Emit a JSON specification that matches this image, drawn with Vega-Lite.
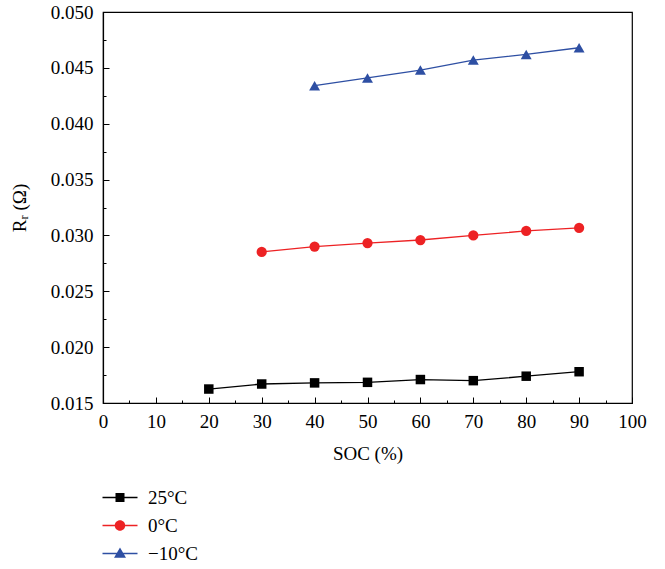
{
  "$schema": "https://vega.github.io/schema/vega-lite/v6.json",
  "autosize": {"type": "none"},
  "width": 529,
  "height": 391,
  "padding": {"left": 103, "top": 12, "right": 33, "bottom": 166},
  "background": "white",
  "config": {
    "view": {"stroke": "black", "strokeWidth": 1.2},
    "font": "Liberation Serif",
    "axis": {"labelFont": "Liberation Serif", "titleFont": "Liberation Serif", "labelFontSize": 19, "titleFontSize": 19, "titleFontWeight": "normal", "labelColor": "black", "titleColor": "black", "domainColor": "black", "tickColor": "black", "grid": false, "labelFlush": false, "labelOverlap": false},
    "legend": {"orient": "none", "legendX": 7.5, "legendY": 476, "padding": 0, "symbolSize": 100, "labelFontSize": 19, "labelFont": "Liberation Serif", "labelColor": "black", "labelOffset": 18.5, "rowPadding": 8}
  },
  "data": {"values": [
    {"soc": 20, "r": 0.01625, "temp": "25°C"},
    {"soc": 30, "r": 0.0167, "temp": "25°C"},
    {"soc": 40, "r": 0.0168, "temp": "25°C"},
    {"soc": 50, "r": 0.01685, "temp": "25°C"},
    {"soc": 60, "r": 0.0171, "temp": "25°C"},
    {"soc": 70, "r": 0.0170, "temp": "25°C"},
    {"soc": 80, "r": 0.0174, "temp": "25°C"},
    {"soc": 90, "r": 0.0178, "temp": "25°C"},
    {"soc": 30, "r": 0.02852, "temp": "0°C"},
    {"soc": 40, "r": 0.0290, "temp": "0°C"},
    {"soc": 50, "r": 0.02932, "temp": "0°C"},
    {"soc": 60, "r": 0.02959, "temp": "0°C"},
    {"soc": 70, "r": 0.0300, "temp": "0°C"},
    {"soc": 80, "r": 0.0304, "temp": "0°C"},
    {"soc": 90, "r": 0.03067, "temp": "0°C"},
    {"soc": 40, "r": 0.0434, "temp": "−10°C"},
    {"soc": 50, "r": 0.0441, "temp": "−10°C"},
    {"soc": 60, "r": 0.0448, "temp": "−10°C"},
    {"soc": 70, "r": 0.0457, "temp": "−10°C"},
    {"soc": 80, "r": 0.0462, "temp": "−10°C"},
    {"soc": 90, "r": 0.0468, "temp": "−10°C"}
  ]},
  "layer": [
    {
      "mark": {"type": "line", "strokeWidth": 1.3},
      "encoding": {
        "x": {"field": "soc", "type": "quantitative", "scale": {"domain": [0, 100], "nice": false}, "axis": {"orient": "bottom", "values": [0,10,20,30,40,50,60,70,80,90,100], "tickSize": -6, "labelPadding": 15, "title": "SOC (%)", "titlePadding": 13, "domainWidth": 1.2}},
        "y": {"field": "r", "type": "quantitative", "scale": {"domain": [0.015, 0.05], "nice": false, "zero": false}, "axis": {"orient": "left", "values": [0.015,0.02,0.025,0.03,0.035,0.04,0.045,0.05], "format": ".3f", "tickSize": -6, "labelPadding": 16, "title": "Rᵣ (Ω)", "titlePadding": 21, "domainWidth": 1.2}},
        "color": {"field": "temp", "type": "nominal", "scale": {"domain": ["25°C", "0°C", "−10°C"], "range": ["#000000", "#ED2224", "#2E4FA3"]}, "legend": null}
      }
    },
    {
      "mark": {"type": "point", "filled": true, "opacity": 1},
      "encoding": {
        "x": {"field": "soc", "type": "quantitative", "axis": {"orient": "bottom", "values": [5,15,25,35,45,55,65,75,85,95], "tickSize": -3, "labels": false, "domain": false, "title": null}},
        "y": {"field": "r", "type": "quantitative", "axis": {"orient": "left", "values": [0.0175,0.0225,0.0275,0.0325,0.0375,0.0425,0.0475], "tickSize": -3, "labels": false, "domain": false, "title": null}},
        "size": {"field": "temp", "type": "nominal", "scale": {"domain": ["25°C", "0°C", "−10°C"], "range": [90, 120, 160]}, "legend": null},
        "color": {"field": "temp", "type": "nominal", "scale": {"domain": ["25°C", "0°C", "−10°C"], "range": ["#000000", "#ED2224", "#2E4FA3"]}, "legend": null},
        "shape": {"field": "temp", "type": "nominal", "scale": {"domain": ["25°C", "0°C", "−10°C"], "range": ["square", "circle", "triangle-up"]}, "legend": null}
      }
    },
    {
      "transform": [{"filter": "false"}],
      "mark": {"type": "point", "filled": true, "opacity": 1},
      "encoding": {
        "color": {"field": "temp", "type": "nominal", "scale": {"domain": ["25°C", "0°C", "−10°C"], "range": ["#000000", "#ED2224", "#2E4FA3"]}, "legend": {"title": null}},
        "shape": {"field": "temp", "type": "nominal", "scale": {"domain": ["25°C", "0°C", "−10°C"], "range": [
          "M-3.5,-0.13H3.5V0.13H-3.5ZM-0.9,-0.9H0.9V0.9H-0.9Z",
          "M-3.5,-0.13H3.5V0.13H-3.5ZM-1.05,0A1.05,1.05,0,1,1,1.05,0A1.05,1.05,0,1,1,-1.05,0Z",
          "M-3.5,-0.13H3.5V0.13H-3.5ZM0,-1.2L1.2,0.85H-1.2Z"
        ]}, "legend": {"title": null}}
      }
    }
  ],
  "resolve": {"axis": {"x": "independent", "y": "independent"}, "scale": {"color": "independent", "shape": "independent", "size": "independent"}}
}
